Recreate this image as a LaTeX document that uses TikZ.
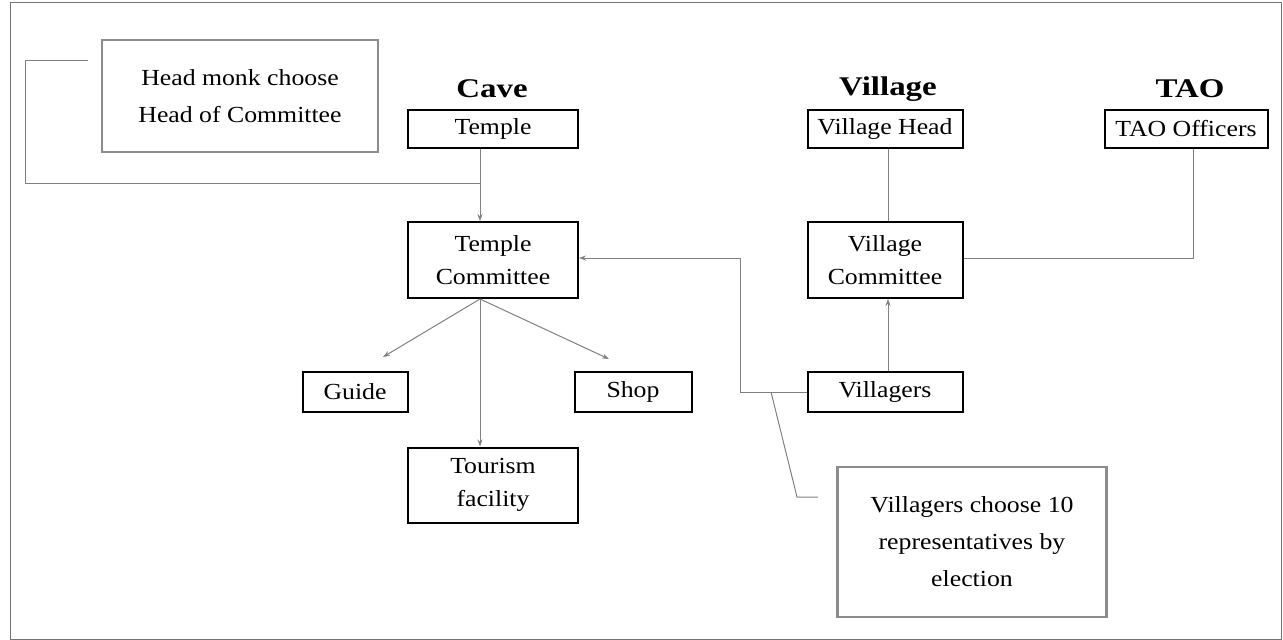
\documentclass[tikz,border=0pt]{standalone}
\usepackage{fontspec}
\setmainfont{Liberation Serif}
\newfontfamily\bodyfont[FakeStretch=1.12]{Liberation Serif}
\newfontfamily\titlefont[FakeStretch=1.22]{Liberation Serif}
\usetikzlibrary{arrows.meta}
\begin{document}
\begin{tikzpicture}[x=1pt,y=-1pt,
  box/.style={draw=black,line width=2pt,inner sep=0pt,align=center,
    font=\bodyfont\fontsize{23}{33}\selectfont},
  note/.style={draw=black!45,line width=2.6pt,inner sep=0pt,align=center,
    font=\bodyfont\fontsize{23}{37}\selectfont},
  head/.style={font=\titlefont\fontsize{27}{30}\selectfont\bfseries},
  link/.style={draw=black!50,line width=1pt},
  arr/.style={link,-{Stealth[length=7pt,width=5pt]}}]
\useasboundingbox (0,0) rectangle (1283,640);
\draw[black!55,line width=1pt] (10,2) rectangle (1281,639);

% column headings
\node[head] (hcave) at (492,89) {Cave};
\node[head] (hvil) at (888,89) {Village};
\node[head] (htao) at (1190,89) {TAO};

% boxes
\node[box,minimum width=170pt,minimum height=38pt] (temple) at (493,129) {Temple};
\node[box,minimum width=170pt,minimum height=76pt] (tcom) at (493,260) {Temple\\Committee};
\node[box,minimum width=105pt,minimum height=40pt] (guide) at (355,392) {Guide};
\node[box,minimum width=117pt,minimum height=40pt] (shop) at (633,392) {Shop};
\node[box,minimum width=170pt,minimum height=75pt] (tour) at (493,485) {Tourism\\facility};
\node[box,minimum width=155pt,minimum height=38pt] (vhead) at (885,129) {Village Head};
\node[box,minimum width=155pt,minimum height=76pt] (vcom) at (885,260) {Village\\Committee};
\node[box,minimum width=155pt,minimum height=40pt] (vill) at (885,392) {Villagers};
\node[box,minimum width=163pt,minimum height=38pt] (tao) at (1186,129) {TAO Officers};

% explanatory notes
\node[note,minimum width=276pt,minimum height=112pt] (monk) at (240,96) {Head monk choose\\Head of Committee};
\node[note,minimum width=269pt,minimum height=150pt] (elect) at (972,542) {Villagers choose 10\\representatives by\\election};

% connectors
\coordinate (tx) at (480,0);
\draw[arr] (temple.south -| tx) -- (tcom.north -| tx);
\coordinate (m1) at (88,60);
\coordinate (m2) at (25,60);
\coordinate (m3) at (25,183);
\draw[link] (m1) -- (m2) -- (m3) -- (m3 -| tx);
\coordinate (g) at (383,357);
\coordinate (s) at (609,359);
\draw[arr] (tcom.south -| tx) -- (g);
\draw[arr] (tcom.south -| tx) -- (s);
\draw[arr] (tcom.south -| tx) -- (tour.north -| tx);

\coordinate (c1) at (740,392);
\coordinate (c2) at (740,258);
\draw[arr] (vill.west) -- (c1) -- (c2) -- (c2 -| tcom.east);
\coordinate (e0) at (771,392);
\coordinate (e1) at (797,497);
\coordinate (e2) at (818,497);
\draw[link] (e0) -- (e1) -- (e2);

\coordinate (vx) at (888,0);
\draw[link] (vhead.south -| vx) -- (vcom.north -| vx);
\draw[arr] (vill.north -| vx) -- (vcom.south -| vx);
\coordinate (t1) at (1193,258);
\draw[link] (tao.south -| t1) -- (t1) -- (t1 -| vcom.east);
\end{tikzpicture}
\end{document}
